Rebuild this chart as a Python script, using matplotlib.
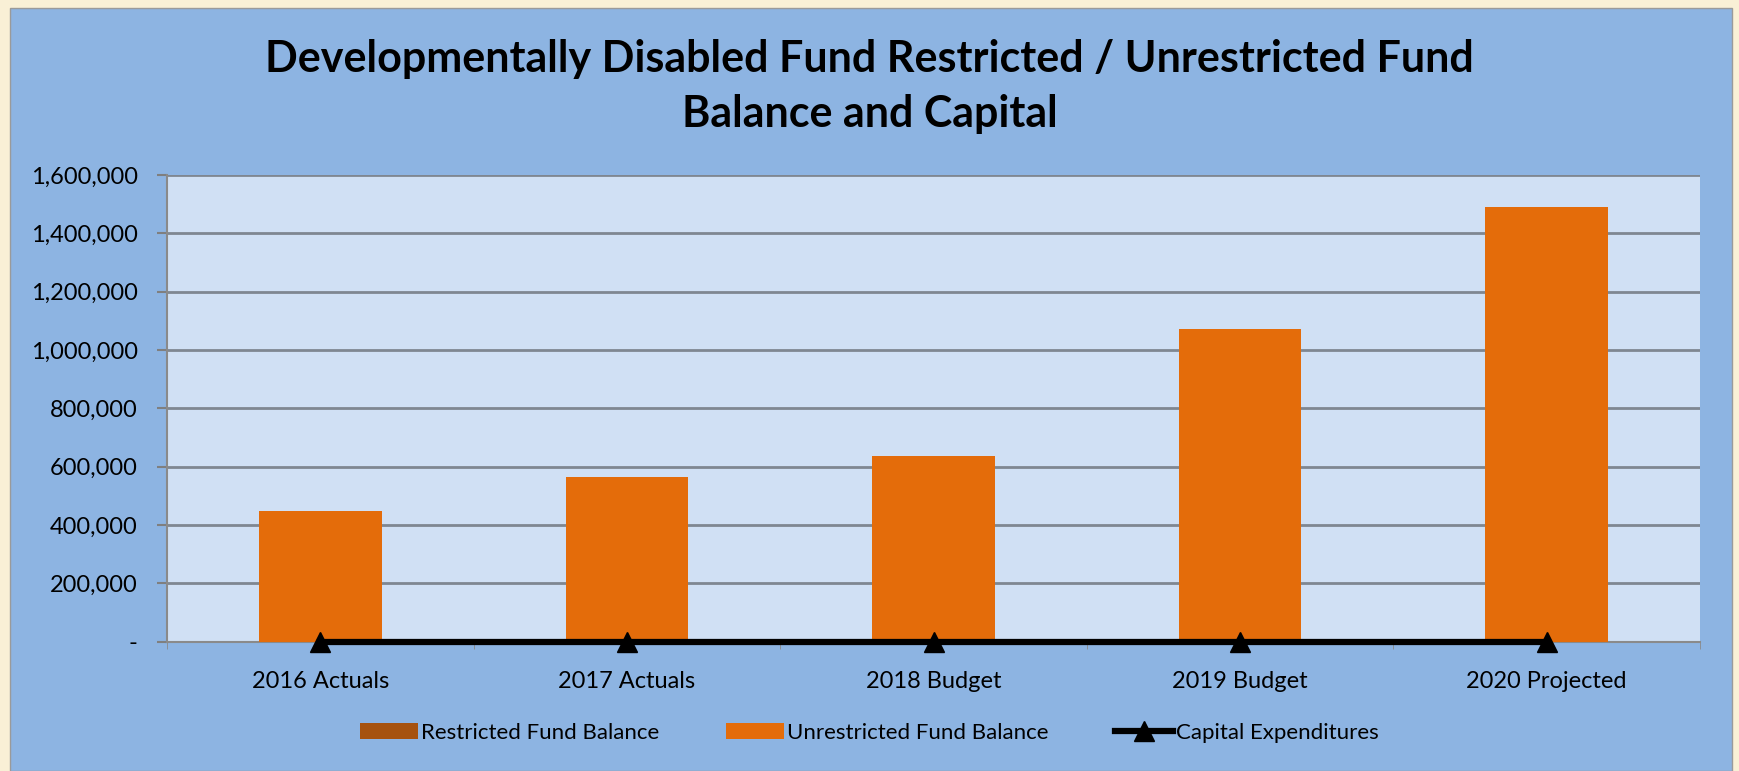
import matplotlib
matplotlib.use("Agg")
import matplotlib.pyplot as plt
from matplotlib.patches import Rectangle
from matplotlib.ticker import FuncFormatter, FixedLocator
import numpy as np

categories = ["2016 Actuals", "2017 Actuals", "2018 Budget", "2019 Budget", "2020 Projected"]
restricted = [0, 0, 0, 0, 0]
unrestricted = [448000, 563000, 636000, 1071000, 1489000]
capital = [0, 0, 0, 0, 0]
yticks = [0, 200000, 400000, 600000, 800000, 1000000, 1200000, 1400000, 1600000]

FONT = ["Lato", "DejaVu Sans"]
plt.rcParams["font.family"] = FONT

W, H = 1739, 771
fig = plt.figure(figsize=(W / 100, H / 100), dpi=100, facecolor="#F9F0D6")
bg = Rectangle((10 / W, 0), (1732 - 10) / W, (771 - 8) / H,
               transform=fig.transFigure, facecolor="#8DB4E2",
               edgecolor="#9A9A9A", linewidth=1.0, zorder=-10)
fig.patches.append(bg)

ax = fig.add_axes([167 / W, (H - 641.5) / H, (1700 - 167) / W, (641.5 - 175) / H])
ax.set_zorder(1)
ax.set_facecolor("#D0E0F4")

x = np.arange(len(categories))
h1 = ax.bar(x, restricted, width=0.40, color="#A6520F", label="Restricted Fund Balance", zorder=3)
h2 = ax.bar(x, unrestricted, width=0.40, bottom=restricted, color="#E46C0A",
            label="Unrestricted Fund Balance", zorder=3)
h3, = ax.plot(x, capital, color="black", linewidth=4.5, marker="^", markersize=14,
              label="Capital Expenditures", zorder=4, clip_on=False)

ax.set_xlim(-0.5, len(categories) - 0.5)
ax.set_ylim(0, 1600000)
ax.set_yticks(yticks)
ax.yaxis.set_major_formatter(FuncFormatter(lambda v, p: "-" if v == 0 else f"{int(v):,}"))
ax.set_xticks(x)
ax.set_xticklabels(categories)
ax.xaxis.set_minor_locator(FixedLocator(np.arange(-0.5, len(categories), 1.0)))
ax.tick_params(axis="x", which="major", length=0, pad=21, labelsize=17)
ax.tick_params(axis="x", which="minor", length=5, color="#8A8A8A", direction="out")
ax.tick_params(axis="y", length=7, color="#7F7F7F", width=1.5, pad=14, labelsize=17)

ax.grid(axis="y", color="#7F8791", linewidth=2, zorder=1)
for s in ["top", "right"]:
    ax.spines[s].set_visible(False)
ax.spines["left"].set_color("#8A8A8A")
ax.spines["left"].set_linewidth(1.5)
ax.spines["bottom"].set_color("#8A8A8A")
ax.spines["bottom"].set_linewidth(1.5)

fig.text(0.5, 1 - 59 / H, "Developmentally Disabled Fund Restricted / Unrestricted Fund",
         ha="center", va="center", fontsize=31, fontweight="bold")
fig.text(0.5, 1 - 114 / H, "Balance and Capital",
         ha="center", va="center", fontsize=31, fontweight="bold")

leg = fig.legend([h1, h2, h3],
                 ["Restricted Fund Balance", "Unrestricted Fund Balance", "Capital Expenditures"],
                 loc="center", bbox_to_anchor=(0.5, 1 - 733 / H), ncol=3, frameon=False,
                 fontsize=16, handlelength=2.6, handletextpad=0.15, columnspacing=3.0)

fig.savefig("out.png", dpi=100, facecolor=fig.get_facecolor())
